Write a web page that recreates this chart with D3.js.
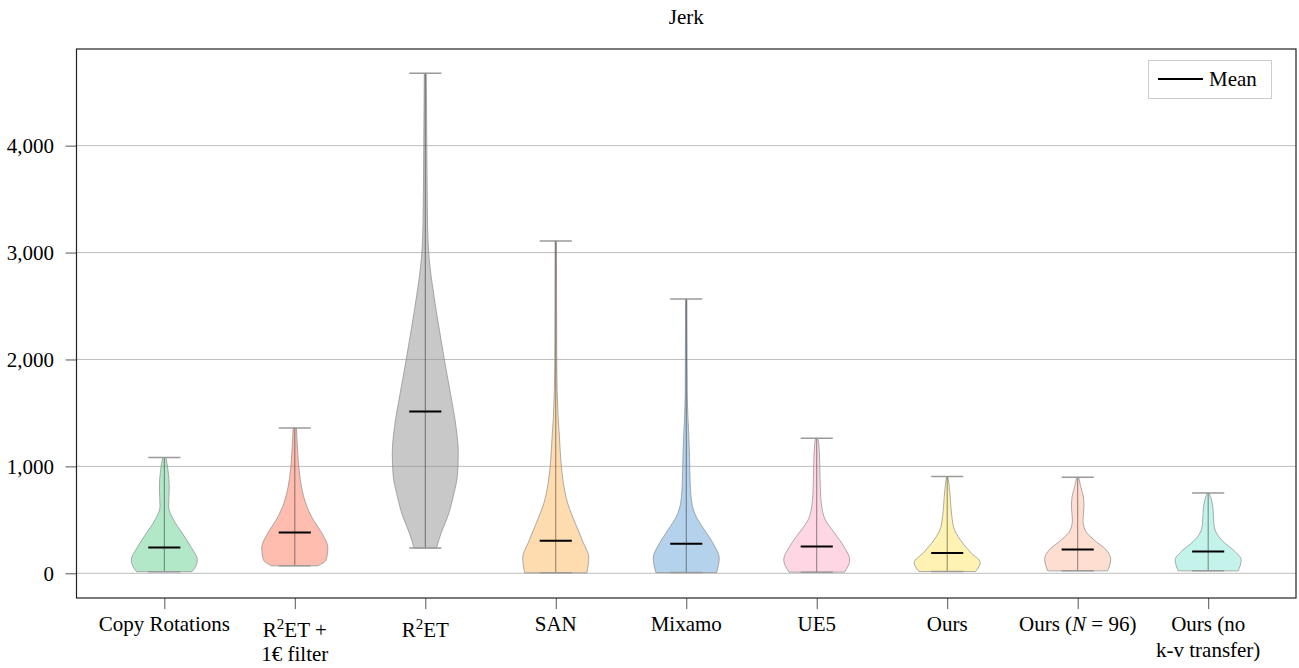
<!DOCTYPE html>
<html>
<head>
<meta charset="utf-8">
<script src="https://cdn.jsdelivr.net/npm/d3@7/dist/d3.min.js"></script>
<style>
  html, body { margin: 0; padding: 0; background: #fff; }
  svg { display: block; }
  text { font-family: "Liberation Serif", "Times New Roman", serif; fill: #000; }
</style>
</head>
<body>
<svg id="chart" width="1299" height="668"></svg>
<script>
// Jerk distribution per retargeting method (violin plot with mean markers)
const categories = [
  "Copy Rotations", "R2ET + 1€ filter", "R2ET", "SAN", "Mixamo",
  "UE5", "Ours", "Ours (N = 96)", "Ours (no k-v transfer)"
];

// Whisker extents and means
const mins  = [15, 70, 236, 5, 7, 11, 17, 23, 23];
const maxs  = [1083, 1358, 4677, 3109, 2566, 1264, 905, 899, 750];
const means = [241, 381, 1513, 304, 276, 251, 189, 223, 204];

// Density profiles: [value, relative half-width]
const densityCopyRot = [[15,0.84],[64,0.95],[126,1.0],[241,0.82],[376,0.54],[500,0.28],[625,0.13],[812,0.15],[968,0.11],[1083,0.05]];
const densityR2ETFilter = [[70,0.70],[126,0.95],[236,1.0],[381,0.81],[500,0.56],[656,0.33],[812,0.20],[968,0.13],[1124,0.09],[1358,0.05]];
const densityR2ET = [[236,0.34],[376,0.48],[531,0.68],[750,0.87],[905,0.97],[1124,1.0],[1373,0.93],[1685,0.76],[1996,0.58],[2308,0.41],[2620,0.25],[2931,0.12],[3243,0.07],[3866,0.05],[4677,0.03]];
const densitySAN = [[5,0.94],[142,1.0],[304,0.81],[469,0.59],[656,0.36],[843,0.23],[1030,0.16],[1279,0.11],[1466,0.07],[1965,0.03],[3109,0.02]];
const densityMixamo = [[7,0.92],[142,1.0],[276,0.82],[407,0.55],[531,0.30],[656,0.17],[843,0.12],[1092,0.10],[1342,0.07],[1466,0.05],[1716,0.03],[2566,0.02]];
const densityUE5 = [[11,0.84],[126,1.0],[251,0.82],[376,0.54],[500,0.26],[625,0.15],[781,0.11],[1030,0.09],[1217,0.06],[1264,0.03]];
const densityOurs = [[17,0.86],[101,1.0],[189,0.73],[282,0.47],[407,0.22],[531,0.14],[718,0.09],[843,0.05],[905,0.02]];
const densityOurs96 = [[23,0.91],[133,1.0],[223,0.85],[313,0.49],[407,0.22],[500,0.16],[625,0.19],[718,0.17],[812,0.09],[899,0.03]];
const densityOursNoKV = [[23,0.91],[126,1.0],[204,0.81],[298,0.45],[376,0.25],[469,0.17],[593,0.15],[687,0.10],[750,0.03]];
const densities = [densityCopyRot, densityR2ETFilter, densityR2ET, densitySAN, densityMixamo,
                   densityUE5, densityOurs, densityOurs96, densityOursNoKV];

const yTicks = [0, 1000, 2000, 3000, 4000];

const fillColors = ["#65d191", "#ff7b61", "#919191", "#ffb961", "#6ba5d9",
                    "#ffafc9", "#ffe565", "#ffbda5", "#89e7d9"];

// Tick label lines; each segment: [text, style]
const tickLabelLines = [
  [[["Copy Rotations", ""]]],
  [[["R", ""], ["2", "sup"], ["ET +", ""]], [["1€ filter", ""]]],
  [[["R", ""], ["2", "sup"], ["ET", ""]]],
  [[["SAN", ""]]],
  [[["Mixamo", ""]]],
  [[["UE5", ""]]],
  [[["Ours", ""]]],
  [[["Ours (", ""], ["N", "it"], [" = 96)", ""]]],
  [[["Ours (no", ""]], [["k-v transfer)", ""]]]
];

const svg = d3.select("#chart");
const plot = { left: 76.5, right: 1296, top: 49, bottom: 598 };

const x = d3.scaleLinear().domain([-0.673, categories.length - 1 + 0.673]).range([plot.left, plot.right]);
const y = d3.scaleLinear().domain([-231, 4904]).range([plot.bottom, plot.top]);
const step = x(1) - x(0);
const halfViolin = step * 0.253;
const halfCap = step * 0.123;

// Horizontal grid
svg.append("g").selectAll("line").data(yTicks).join("line")
  .attr("x1", plot.left).attr("x2", plot.right)
  .attr("y1", d => y(d)).attr("y2", d => y(d))
  .attr("stroke", "#bdbdbd").attr("stroke-width", 1);

// Violin bodies
const area = d3.area()
  .y(d => y(d[0]))
  .x0(d => 0 - d[1] * halfViolin)
  .x1(d => 0 + d[1] * halfViolin)
  .curve(d3.curveMonotoneY);

const groups = svg.append("g").selectAll("g").data(categories).join("g")
  .attr("transform", (d, i) => `translate(${x(i)},0)`);

groups.append("path")
  .attr("d", (d, i) => area(densities[i]))
  .attr("fill", (d, i) => fillColors[i])
  .attr("fill-opacity", 0.5)
  .attr("stroke", "#8a8a8a")
  .attr("stroke-opacity", 0.7)
  .attr("stroke-width", 1);

// Whisker line
groups.append("line")
  .attr("x1", 0).attr("x2", 0)
  .attr("y1", (d, i) => y(mins[i])).attr("y2", (d, i) => y(maxs[i]))
  .attr("stroke", "#000").attr("stroke-opacity", 0.45).attr("stroke-width", 1);

// Caps at extremes
["min", "max"].forEach(k => {
  groups.append("line")
    .attr("x1", -halfCap).attr("x2", halfCap)
    .attr("y1", (d, i) => y(k === "min" ? mins[i] : maxs[i]))
    .attr("y2", (d, i) => y(k === "min" ? mins[i] : maxs[i]))
    .attr("stroke", "#9a9a9a").attr("stroke-width", 1.5);
});

// Mean markers
groups.append("line")
  .attr("x1", -halfCap).attr("x2", halfCap)
  .attr("y1", (d, i) => y(means[i])).attr("y2", (d, i) => y(means[i]))
  .attr("stroke", "#000").attr("stroke-width", 2);

// Axes
const yAxis = d3.axisLeft(y).tickValues(yTicks).tickFormat(d3.format(",")).tickSizeInner(11).tickSizeOuter(0).tickPadding(11.5);
const yg = svg.append("g").attr("transform", `translate(${plot.left},0)`).call(yAxis);
yg.select(".domain").remove();
yg.selectAll("text").attr("font-family", "Liberation Serif, serif").attr("font-size", 21);
yg.selectAll(".tick line").attr("stroke", "#555");

const xAxis = d3.axisBottom(x).tickValues(d3.range(categories.length)).tickFormat("").tickSizeInner(11).tickSizeOuter(0);
const xg = svg.append("g").attr("transform", `translate(0,${plot.bottom})`).call(xAxis);
xg.select(".domain").remove();
xg.selectAll(".tick line").attr("stroke", "#555");

// Category labels
tickLabelLines.forEach((lines, i) => {
  const hasSup = lines[0].some(s => s[1] === "sup");
  const base = hasSup ? 637 : 631;
  const gap = hasSup ? 24 : 26;
  lines.forEach((segs, li) => {
    const t = svg.append("text")
      .attr("x", x(i))
      .attr("y", base + li * gap)
      .attr("text-anchor", "middle")
      .attr("font-size", 21);
    segs.forEach(([txt, st], si) => {
      const ts = t.append("tspan").text(txt);
      if (st === "sup") ts.attr("font-size", 15).attr("dy", -8);
      if (st === "it") ts.attr("font-style", "italic");
      if (si > 0 && segs[si - 1][1] === "sup") ts.attr("dy", 8);
    });
  });
});

// Frame
svg.append("rect")
  .attr("x", plot.left).attr("y", plot.top)
  .attr("width", plot.right - plot.left).attr("height", plot.bottom - plot.top)
  .attr("fill", "none").attr("stroke", "#222").attr("stroke-width", 1.2);

// Title
svg.append("text").attr("x", (plot.left + plot.right) / 2).attr("y", 24)
  .attr("text-anchor", "middle").attr("font-size", 21).text("Jerk");

// Legend
const lg = svg.append("g");
lg.append("rect").attr("x", 1148.5).attr("y", 60.5).attr("width", 123).attr("height", 38)
  .attr("fill", "#fff").attr("stroke", "#cccccc").attr("stroke-width", 1);
lg.append("line").attr("x1", 1158).attr("x2", 1203).attr("y1", 79).attr("y2", 79)
  .attr("stroke", "#000").attr("stroke-width", 2);
lg.append("text").attr("x", 1209).attr("y", 86).attr("font-size", 21).text("Mean");
</script>
</body>
</html>
